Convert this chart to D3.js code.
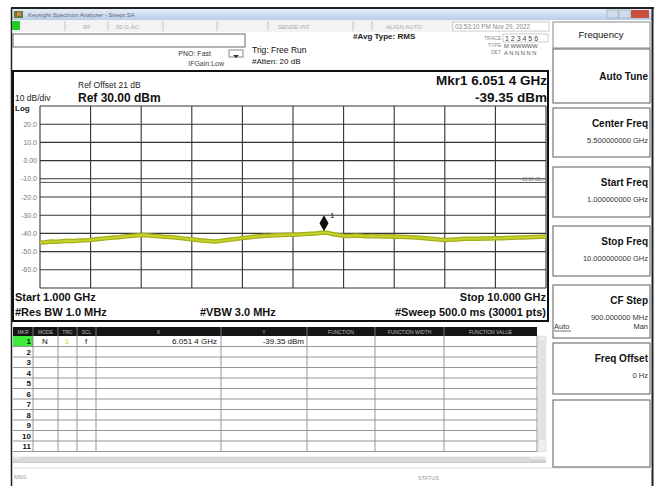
<!DOCTYPE html>
<html><head><meta charset="utf-8">
<script src="https://cdn.jsdelivr.net/npm/d3@7"></script>
<style>
body{margin:0;background:#fff;}
svg{display:block;font-family:"Liberation Sans",Arial,sans-serif;}
</style></head><body>
<svg id="c" width="655" height="486"></svg>
<script>
// ---------------- data ----------------
const freqGHz = [1.0,1.1,1.2,1.3,1.4,1.5,1.6,1.7,1.8,1.9,
  2.0,2.1,2.2,2.3,2.4,2.5,2.6,2.7,2.8,2.9,
  3.0,3.1,3.2,3.3,3.4,3.5,3.6,3.7,3.8,3.9,
  4.0,4.1,4.2,4.3,4.4,4.5,4.6,4.7,4.8,4.9,
  5.0,5.1,5.2,5.3,5.4,5.5,5.6,5.7,5.8,5.9,
  6.0,6.1,6.2,6.3,6.4,6.5,6.6,6.7,6.8,6.9,
  7.0,7.1,7.2,7.3,7.4,7.5,7.6,7.7,7.8,7.9,
  8.0,8.1,8.2,8.3,8.4,8.5,8.6,8.7,8.8,8.9,
  9.0,9.1,9.2,9.3,9.4,9.5,9.6,9.7,9.8,9.9,10.0];
const levelDbm = [-45.0,-44.8,-44.5,-44.6,-44.3,-44.1,-44.2,-43.9,-43.8,-43.6,
  -43.2,-42.9,-42.6,-42.3,-42.1,-41.7,-41.4,-41.1,-40.9,-41.0,
  -41.3,-41.5,-41.8,-42.0,-42.2,-42.6,-43.0,-43.2,-43.6,-43.9,
  -44.2,-44.5,-44.2,-43.8,-43.4,-43.0,-42.6,-42.2,-41.9,-41.6,
  -41.3,-41.2,-41.0,-40.9,-40.8,-40.8,-40.6,-40.4,-40.2,-40.0,
  -39.7,-39.6,-40.3,-40.9,-41.3,-41.4,-41.2,-41.3,-41.5,-41.4,
  -41.6,-41.7,-41.6,-41.8,-41.9,-42.0,-42.1,-42.3,-42.5,-42.8,
  -43.1,-43.4,-43.6,-43.5,-43.3,-43.1,-43.0,-42.9,-42.9,-42.8,
  -42.8,-42.7,-42.6,-42.5,-42.4,-42.3,-42.2,-42.1,-42.0,-41.9,-41.8];
const xGridGHz = [1.0,1.9,2.8,3.7,4.6,5.5,6.4,7.3,8.2,9.1,10.0];
const yGridDbm = [30,20,10,0,-10,-20,-30,-40,-50,-60,-70];
const yTickValues = [20,10,0,-10,-20,-30,-40,-50,-60];
const yTickLabels = ["20.0","10.0","0.00","-10.0","-20.0","-30.0","-40.0","-50.0","-60.0"];
const displayLineDbm = -12;
const displayLineLabel = "-12.00 dBm";
const markerFreq = 6.0514, markerLevel = -39.35;
const tableCols = ["MKR","MODE","TRC","SCL","X","Y","FUNCTION","FUNCTION WIDTH","FUNCTION VALUE"];
const rowNums = ["1","2","3","4","5","6","7","8","9","10","11"];
const softkeys = [
  {t:"Auto Tune", v:""},
  {t:"Center Freq", v:"5.500000000 GHz"},
  {t:"Start Freq", v:"1.000000000 GHz"},
  {t:"Stop Freq", v:"10.000000000 GHz"},
  {t:"CF Step", v:"900.000000 MHz"},
  {t:"Freq Offset", v:"0 Hz"},
  {t:"", v:""}
];

// ---------------- drawing ----------------
const svg = d3.select("#c");
function txt(g,x,y,s,o={}){
  return g.append("text").attr("x",x).attr("y",y).text(s)
    .attr("font-size",o.fs||8).attr("font-weight",o.fw||"normal")
    .attr("fill",o.fill||"#111").attr("text-anchor",o.a||"start");
}

const defs = svg.append("defs");
const tg = defs.append("linearGradient").attr("id","tb").attr("x1",0).attr("y1",0).attr("x2",0).attr("y2",1);
tg.append("stop").attr("offset","0").attr("stop-color","#e4edf8");
tg.append("stop").attr("offset","1").attr("stop-color","#b9cde8");
const sg = defs.append("linearGradient").attr("id","sb").attr("x1",0).attr("y1",0).attr("x2",0).attr("y2",1);
sg.append("stop").attr("offset","0").attr("stop-color","#f4f4f4");
sg.append("stop").attr("offset","1").attr("stop-color","#c8c8c8");

// outer frame / title bar
svg.append("rect").attr("x",11).attr("y",7).attr("width",643).attr("height",2).attr("fill","#222");
svg.append("rect").attr("x",12).attr("y",9).attr("width",641).attr("height",11).attr("fill","url(#tb)");
svg.append("rect").attr("x",14).attr("y",11).attr("width",9).attr("height",7).attr("fill","#6b7b3a");
svg.append("rect").attr("x",17).attr("y",12).attr("width",4).attr("height",4).attr("fill","#c84");
txt(svg,28,17,"Keysight Spectrum Analyzer - Swept SA",{fs:6,fill:"#667"});
svg.append("rect").attr("x",607).attr("y",10).attr("width",11).attr("height",8).attr("fill","#d0dcea").attr("stroke","#8fa3bd").attr("stroke-width",0.6);
svg.append("rect").attr("x",619).attr("y",10).attr("width",11).attr("height",8).attr("fill","#d0dcea").attr("stroke","#8fa3bd").attr("stroke-width",0.6);
svg.append("rect").attr("x",631).attr("y",10).attr("width",18).attr("height",8).attr("fill","#c9503f");
svg.append("line").attr("x1",11.5).attr("x2",11.5).attr("y1",8).attr("y2",486).attr("stroke","#222").attr("stroke-width",1.5);
svg.append("line").attr("x1",652.5).attr("x2",652.5).attr("y1",8).attr("y2",486).attr("stroke","#222").attr("stroke-width",2);

// status row
svg.append("rect").attr("x",12).attr("y",20).attr("width",538).attr("height",12).attr("fill","#f3f3f3");
svg.append("rect").attr("x",12).attr("y",21).attr("width",8).attr("height",9).attr("fill","#22cc22");
[65,108,163,217,268,353,372,453].forEach(xx=>svg.append("line").attr("x1",xx).attr("x2",xx).attr("y1",21).attr("y2",31).attr("stroke","#c4c4c4"));
txt(svg,87,29,"RF",{fs:6,fill:"#aaa",a:"middle"});
txt(svg,116,29,"50 Ω   AC",{fs:6,fill:"#aaa"});
txt(svg,278,29,"SENSE:INT",{fs:6,fill:"#aaa"});
txt(svg,386,29,"ALIGN AUTO",{fs:6,fill:"#aaa"});
svg.append("rect").attr("x",453).attr("y",22).attr("width",96).attr("height",9).attr("fill","#fff").attr("stroke","#bbb").attr("stroke-width",0.6);
txt(svg,455,29,"03:53:10 PM Nov 29, 2022",{fs:6.3,fill:"#888"});

// info area
svg.append("rect").attr("x",13).attr("y",34).attr("width",232).attr("height",13).attr("fill","#fff").attr("stroke","#444").attr("stroke-width",0.8);
txt(svg,211,56,"PNO: Fast",{fs:7,fill:"#333",a:"end"});
txt(svg,224,66,"IFGain:Low",{fs:7,fill:"#444",a:"end"});
svg.append("rect").attr("x",229).attr("y",50).attr("width",14).attr("height",7).attr("fill","none").attr("stroke","#555").attr("stroke-width",0.7);
svg.append("path").attr("d","M233,55 L236,58 L239,55 Z").attr("fill","#333");
txt(svg,252,53,"Trig: Free Run",{fs:8.5,fill:"#111"});
txt(svg,252,64,"#Atten: 20 dB",{fs:8,fill:"#111"});
txt(svg,353,39,"#Avg Type: RMS",{fs:8,fw:"bold",fill:"#222"});
txt(svg,501,40,"TRACE",{fs:5,fill:"#888",a:"end"});
txt(svg,501,47,"TYPE",{fs:5,fill:"#888",a:"end"});
txt(svg,501,54,"DET",{fs:5,fill:"#888",a:"end"});
svg.append("rect").attr("x",503).attr("y",34).attr("width",45).attr("height",8).attr("fill","none").attr("stroke","#aaa").attr("stroke-width",0.6);
txt(svg,505,41,"1 2 3 4 5 6",{fs:7,fill:"#444"});
txt(svg,504,48,"M WWWWW",{fs:5.8,fill:"#555"});
txt(svg,504,55,"A N N N N N",{fs:5.8,fill:"#555"});

// plot frame
svg.append("rect").attr("x",13).attr("y",71).attr("width",535).attr("height",250).attr("fill","#fff").attr("stroke","#111").attr("stroke-width",2);

const x = d3.scaleLinear().domain([1,10]).range([40,546]);
const y = d3.scaleLinear().domain([-70,30]).range([288,106]);

txt(svg,78,88,"Ref Offset 21 dB",{fs:8.5,fill:"#222"});
txt(svg,15,101,"10 dB/div",{fs:8.5,fill:"#222"});
txt(svg,78,102,"Ref 30.00 dBm",{fs:12,fw:"bold",fill:"#111"});
txt(svg,15,111,"Log",{fs:8,fw:"bold",fill:"#222"});
txt(svg,547,85,"Mkr1 6.051 4 GHz",{fs:13.5,fw:"bold",a:"end"});
txt(svg,547,102,"-39.35 dBm",{fs:13.5,fw:"bold",a:"end"});

// grid
const grid = svg.append("g");
grid.selectAll("line.v").data(xGridGHz).enter().append("line")
  .attr("x1",d=>x(d)).attr("x2",d=>x(d)).attr("y1",y(30)).attr("y2",y(-70))
  .attr("stroke","#333").attr("stroke-width",1.1);
grid.selectAll("line.h").data(yGridDbm).enter().append("line")
  .attr("x1",x(1)).attr("x2",x(10)).attr("y1",d=>y(d)).attr("y2",d=>y(d))
  .attr("stroke","#333").attr("stroke-width",1.1);
grid.selectAll("text.yl").data(yTickValues).enter().append("text")
  .attr("x",37).attr("y",d=>y(d)+2.5).attr("text-anchor","end")
  .attr("font-size",7).attr("fill","#777").text((d,i)=>yTickLabels[i]);
grid.append("line").attr("x1",x(1)).attr("x2",x(10)).attr("y1",y(displayLineDbm)).attr("y2",y(displayLineDbm))
  .attr("stroke","#555").attr("stroke-width",1);
txt(grid,x(10)-2,y(displayLineDbm)-1.5,displayLineLabel,{fs:4.5,fill:"#777",a:"end"});

// trace
const pts = freqGHz.map((f,i)=>[f,levelDbm[i]]);
const line = d3.line().x(d=>x(d[0])).y(d=>y(d[1]));
svg.append("path").datum(pts).attr("d",line).attr("fill","none").attr("stroke","#a3b01a").attr("stroke-width",4.5).attr("stroke-linejoin","round");
svg.append("path").datum(pts).attr("d",line).attr("fill","none").attr("stroke","#c8d22c").attr("stroke-width",2).attr("stroke-linejoin","round");

// marker
const mx = x(markerFreq), my = y(markerLevel);
svg.append("path").attr("d",`M${mx},${my-1} L${mx-4.5},${my-9} L${mx},${my-17} L${mx+4.5},${my-9} Z`).attr("fill","#111");
txt(svg,mx+6,my-14,"1",{fs:8,fill:"#111"});

// bottom info
txt(svg,15,301,"Start 1.000 GHz",{fs:11,fw:"bold"});
txt(svg,15,316,"#Res BW 1.0 MHz",{fs:11,fw:"bold"});
txt(svg,200,316,"#VBW 3.0 MHz",{fs:11,fw:"bold"});
txt(svg,546,301,"Stop 10.000 GHz",{fs:11,fw:"bold",a:"end"});
txt(svg,546,316,"#Sweep  500.0 ms (30001 pts)",{fs:11,fw:"bold",a:"end"});

// table
const colX = [13,33,58,77,96,221,307,375,444,537];
const tY0 = 327, hH = 9, rH = 10.5;
const tb = svg.append("g");
tb.append("rect").attr("x",13).attr("y",tY0).attr("width",524).attr("height",hH).attr("fill","#151515");
tableCols.forEach((c,i)=>{
  txt(tb,(colX[i]+colX[i+1])/2,tY0+6.5,c,{fs:5,fill:"#bbb",a:"middle"});
  if(i>0) tb.append("line").attr("x1",colX[i]).attr("x2",colX[i]).attr("y1",tY0).attr("y2",tY0+hH).attr("stroke","#777").attr("stroke-width",1);
});
const rows0 = tY0+hH;
tb.append("rect").attr("x",13).attr("y",rows0).attr("width",20).attr("height",rH).attr("fill","#3dec3d");
rowNums.forEach((r,i)=>{
  const yy = rows0+i*rH;
  tb.append("line").attr("x1",13).attr("x2",537).attr("y1",yy+rH).attr("y2",yy+rH).attr("stroke","#8a8a8a").attr("stroke-width",0.9);
  txt(tb,31,yy+8,r,{fs:8,fw:"bold",a:"end"});
});
colX.slice(1).forEach(cx=>tb.append("line").attr("x1",cx).attr("x2",cx).attr("y1",rows0).attr("y2",rows0+11*rH).attr("stroke","#8a8a8a").attr("stroke-width",0.9));
txt(tb,45,rows0+8,"N",{fs:8,a:"middle"});
txt(tb,67,rows0+8,"1",{fs:8,a:"middle",fill:"#d8c820"});
txt(tb,86,rows0+8,"f",{fs:8,a:"middle"});
txt(tb,217,rows0+8,"6.051 4 GHz",{fs:8,a:"end"});
txt(tb,304,rows0+8,"-39.35 dBm",{fs:8,a:"end"});
tb.append("rect").attr("x",538).attr("y",rows0).attr("width",8).attr("height",11*rH).attr("fill","#efefef").attr("stroke","#ccc").attr("stroke-width",0.5);
tb.append("rect").attr("x",539).attr("y",rows0+4).attr("width",6).attr("height",100).attr("fill","#e2e2e2");
tb.append("rect").attr("x",13).attr("y",456).attr("width",533).attr("height",7).attr("fill","url(#sb)");
tb.append("rect").attr("x",20).attr("y",457).attr("width",510).attr("height",5).attr("fill","#dadada");
txt(svg,14,479,"MSG",{fs:5.5,fill:"#999"});
txt(svg,418,480,"STATUS",{fs:5.5,fill:"#999"});
svg.append("line").attr("x1",12).attr("x2",652).attr("y1",468).attr("y2",468).attr("stroke","#ddd");

// softkey panel
const sk = svg.append("g");
sk.append("rect").attr("x",553).attr("y",22).attr("width",97).attr("height",26).attr("fill","#fff").attr("stroke","#888").attr("stroke-width",1);
txt(sk,601,38,"Frequency",{fs:9.5,a:"middle",fill:"#111"});
const boxes = [[49,103],[108,157],[167,217],[226,276],[285,338],[343,394],[400,467]];
softkeys.forEach((k,i)=>{
  const [b0,b1] = boxes[i];
  sk.append("rect").attr("x",553).attr("y",b0).attr("width",97).attr("height",b1-b0).attr("fill","#fff").attr("stroke","#777").attr("stroke-width",1.2);
  if(!k.t) return;
  const hasV = !!k.v;
  const ty = hasV ? b0+19 : (b0+b1)/2+4;
  txt(sk,648,ty,k.t,{fs:10,fw:"bold",a:"end"});
  if(hasV) txt(sk,648,ty+16,k.v,{fs:7.5,a:"end",fill:"#333"});
});
txt(sk,554,329,"Auto",{fs:7.5,fill:"#333"});
sk.append("line").attr("x1",554).attr("x2",571).attr("y1",331).attr("y2",331).attr("stroke","#333").attr("stroke-width",0.7);
txt(sk,648,329,"Man",{fs:7.5,a:"end",fill:"#333"});
</script>
</body></html>
